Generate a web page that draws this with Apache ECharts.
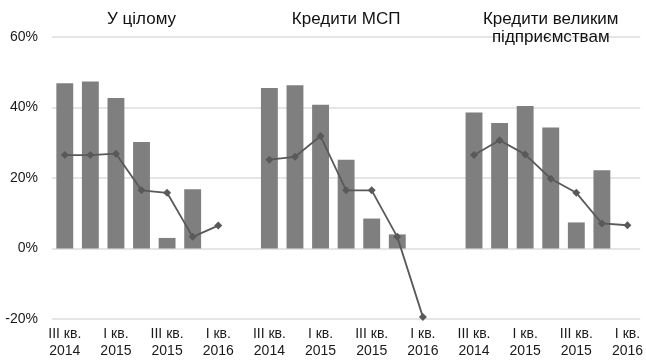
<!DOCTYPE html>
<html>
<head>
<meta charset="utf-8">
<script src="https://cdn.jsdelivr.net/npm/echarts@6/dist/echarts.min.js"></script>
<style>
  html, body { margin: 0; padding: 0; background: #fff; }
  #chart { width: 646px; height: 360px; }
</style>
</head>
<body>
<div id="chart"></div>
<script>
// Quarter labels, repeated for every panel
const quarters = ['III кв.\n2014', 'IV кв.\n2014', 'I кв.\n2015', 'II кв.\n2015', 'III кв.\n2015', 'IV кв.\n2015', 'I кв.\n2016'];
const groupTitles = ['У цілому', 'Кредити МСП', 'Кредити великим\nпідприємствам'];

// Bars (no bar for I кв. 2016) and line values, %
const barTotal = [46.9, 47.4, 42.7, 30.2, 3.0, 16.8, null];
const lineTotal = [26.5, 26.5, 26.9, 16.5, 15.8, 3.3, 6.5];
const barSme = [45.5, 46.3, 40.8, 25.2, 8.5, 4.0, null];
const lineSme = [25.2, 26.0, 31.9, 16.5, 16.5, 3.3, -19.4];
const barLarge = [38.6, 35.6, 40.4, 34.3, 7.4, 22.2, null];
const lineLarge = [26.5, 30.7, 26.7, 19.8, 15.8, 7.1, 6.6];

const yTicks = [-20, 0, 20, 40, 60];

// Join the three panels on one category axis, with an empty slot between them
const groupsBar = [barTotal, barSme, barLarge];
const groupsLine = [lineTotal, lineSme, lineLarge];
const categories = [];
const barData = [];
const lineData = [];
const showLabel = [];
const groupCenters = [];
groupsBar.forEach(function (bars, g) {
  if (g > 0) {
    categories.push('gap' + g);
    barData.push(null);
    lineData.push(null);
    showLabel.push(false);
  }
  groupCenters.push(categories.length + (quarters.length - 1) / 2);
  quarters.forEach(function (q, i) {
    categories.push(q);
    barData.push(bars[i]);
    lineData.push(groupsLine[g][i]);
    showLabel.push(i % 2 === 0);
  });
});

const font = 'Liberation Sans, Arial, sans-serif';
const chart = echarts.init(document.getElementById('chart'));

chart.setOption({
  animation: false,
  backgroundColor: '#fff',
  grid: { left: 52, right: 4, top: 37, bottom: 41, containLabel: false },
  xAxis: {
    type: 'category',
    data: categories,
    boundaryGap: true,
    axisLine: { show: false },
    axisTick: { show: false },
    axisLabel: {
      interval: function (index) { return showLabel[index]; },
      formatter: function (v, index) { return showLabel[index] ? v : ''; },
      color: '#1a1a1a',
      fontFamily: font,
      fontSize: 14,
      lineHeight: 17,
      margin: 7
    }
  },
  yAxis: {
    type: 'value',
    min: yTicks[0],
    max: yTicks[yTicks.length - 1],
    interval: 20,
    axisLine: { show: false },
    axisTick: { show: false },
    axisLabel: {
      formatter: '{value}%',
      color: '#1a1a1a',
      fontFamily: font,
      fontSize: 14,
      margin: 14
    },
    splitLine: { lineStyle: { color: '#dcdcdc', width: 1.5 } }
  },
  series: [
    {
      type: 'bar',
      data: barData,
      barWidth: '66%',
      itemStyle: { color: '#7f7f7f' },
      z: 2
    },
    {
      type: 'line',
      data: lineData,
      connectNulls: false,
      symbol: 'diamond',
      symbolSize: 8,
      lineStyle: { color: '#595959', width: 1.8 },
      itemStyle: { color: '#595959' },
      z: 3
    }
  ]
});

// Panel headings centred over each group of quarters
const graphics = groupTitles.map(function (t, g) {
  const x = chart.convertToPixel({ xAxisIndex: 0 }, groupCenters[g]);
  return {
    type: 'text',
    x: x,
    y: 10,
    style: {
      text: t,
      fill: '#111',
      font: '17px ' + font,
      textAlign: 'center',
      textVerticalAlign: 'top',
      lineHeight: 18
    }
  };
});
chart.setOption({ graphic: graphics });
</script>
</body>
</html>
